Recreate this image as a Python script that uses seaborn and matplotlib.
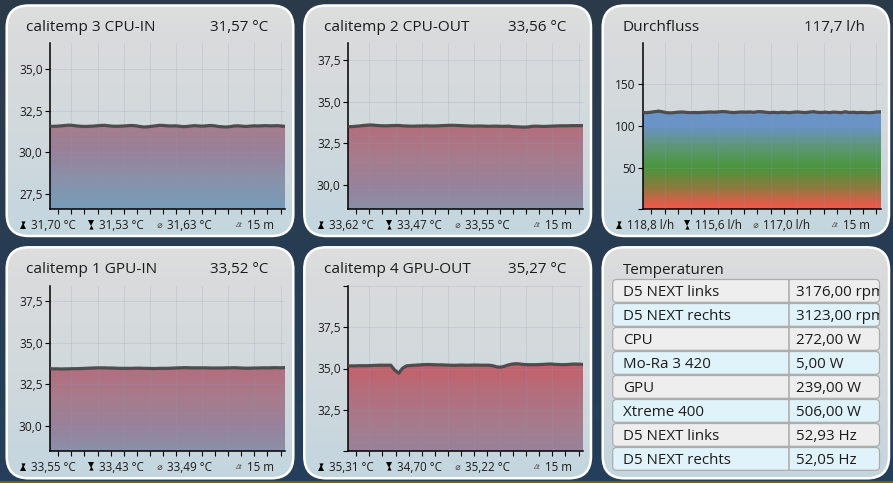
import numpy as np
import matplotlib
matplotlib.use("Agg")
import matplotlib.pyplot as plt
import seaborn as sns
import pandas as pd
from matplotlib.colors import LinearSegmentedColormap
from matplotlib.patches import FancyBboxPatch, Rectangle
from matplotlib.ticker import MultipleLocator
from matplotlib.transforms import Bbox, TransformedBbox

# seconds on the 15 minute window
sample_s = [17, 32, 47, 62, 77, 92, 107, 122, 137, 152, 167, 182, 197, 212, 227, 242, 257, 272, 287, 302,
            317, 332, 347, 362, 377, 392, 407, 422, 437, 452, 467, 482, 497, 512, 527, 542, 557, 572, 587, 602,
            617, 632, 647, 662, 677, 692, 707, 722, 737, 752, 767, 782, 797, 812, 827, 842, 857, 872, 887, 902, 917]

cpu_in = [31.58, 31.57, 31.58, 31.60, 31.62, 31.64, 31.62, 31.59, 31.57, 31.56, 31.57, 31.58, 31.60, 31.62, 31.63, 31.60,
          31.58, 31.57, 31.58, 31.59, 31.61, 31.62, 31.60, 31.56, 31.53, 31.54, 31.57, 31.60, 31.63, 31.62, 31.60, 31.59,
          31.60, 31.58, 31.55, 31.56, 31.59, 31.61, 31.59, 31.58, 31.60, 31.62, 31.60, 31.56, 31.54, 31.53, 31.55, 31.59,
          31.60, 31.58, 31.56, 31.58, 31.60, 31.59, 31.60, 31.61, 31.60, 31.60, 31.61, 31.59, 31.57]
cpu_out = [33.50, 33.50, 33.52, 33.54, 33.57, 33.59, 33.60, 33.58, 33.56, 33.55, 33.55, 33.56, 33.57, 33.57, 33.55, 33.54,
           33.53, 33.53, 33.54, 33.54, 33.55, 33.54, 33.54, 33.55, 33.56, 33.57, 33.58, 33.58, 33.57, 33.56, 33.55, 33.54,
           33.53, 33.54, 33.54, 33.53, 33.52, 33.53, 33.53, 33.52, 33.52, 33.53, 33.50, 33.49, 33.48, 33.47, 33.48, 33.52,
           33.53, 33.52, 33.51, 33.52, 33.53, 33.54, 33.55, 33.55, 33.55, 33.56, 33.56, 33.56, 33.56]
flow = [116.2, 116.0, 116.5, 117.2, 117.8, 117.0, 116.0, 115.7, 116.1, 116.6, 116.8, 116.3, 116.0, 116.2, 116.0, 116.3,
        116.5, 116.8, 116.6, 116.9, 117.3, 117.1, 116.4, 116.1, 116.5, 116.8, 116.6, 116.9, 116.4, 117.2, 117.1, 116.5,
        116.0, 116.4, 115.9, 116.5, 116.3, 116.0, 116.6, 116.9, 116.4, 116.1, 116.7, 117.2, 116.4, 116.2, 116.6, 116.0,
        116.7, 116.4, 116.0, 117.1, 116.2, 116.5, 116.0, 116.3, 116.1, 115.9, 116.2, 116.9, 117.0]
gpu_in = [33.45, 33.44, 33.44, 33.43, 33.44, 33.44, 33.45, 33.45, 33.46, 33.47, 33.48, 33.49, 33.50, 33.50, 33.50, 33.49,
          33.49, 33.48, 33.47, 33.47, 33.47, 33.47, 33.48, 33.48, 33.47, 33.47, 33.46, 33.46, 33.47, 33.47, 33.47, 33.48,
          33.49, 33.50, 33.51, 33.51, 33.50, 33.50, 33.50, 33.50, 33.50, 33.49, 33.49, 33.49, 33.49, 33.50, 33.50, 33.51,
          33.50, 33.49, 33.48, 33.48, 33.49, 33.49, 33.50, 33.50, 33.50, 33.51, 33.51, 33.50, 33.52]
gpu_out = [35.15, 35.16, 35.16, 35.17, 35.17, 35.17, 35.18, 35.19, 35.20, 35.20, 35.20, 35.20, 34.90, 34.72, 35.02, 35.16,
           35.18, 35.20, 35.21, 35.23, 35.24, 35.24, 35.23, 35.22, 35.22, 35.21, 35.20, 35.19, 35.20, 35.21, 35.20, 35.20,
           35.21, 35.21, 35.20, 35.20, 35.20, 35.17, 35.10, 35.08, 35.14, 35.22, 35.27, 35.29, 35.27, 35.24, 35.23, 35.23,
           35.23, 35.24, 35.25, 35.27, 35.27, 35.25, 35.24, 35.23, 35.24, 35.26, 35.27, 35.26, 35.25]

titles = ["calitemp 3 CPU-IN", "calitemp 2 CPU-OUT", "Durchfluss", "calitemp 1 GPU-IN", "calitemp 4 GPU-OUT"]
current = ["31,57 °C", "33,56 °C", "117,7 l/h", "33,52 °C", "35,27 °C"]
maxima = ["31,70 °C", "33,62 °C", "118,8 l/h", "33,55 °C", "35,31 °C"]
minima = ["31,53 °C", "33,47 °C", "115,6 l/h", "33,43 °C", "34,70 °C"]
means = ["31,63 °C", "33,55 °C", "117,0 l/h", "33,49 °C", "35,22 °C"]
series = [cpu_in, cpu_out, flow, gpu_in, gpu_out]
y_ticks = [[27.5, 30, 32.5, 35], [30, 32.5, 35, 37.5], [0, 50, 100, 150], [30, 32.5, 35, 37.5], [30, 32.5, 35, 37.5, 40]]
y_labels = [["27,5", "30,0", "32,5", "35,0"], ["30,0", "32,5", "35,0", "37,5"], ["", "50", "100", "150"],
            ["30,0", "32,5", "35,0", "37,5"], ["", "32,5", "35,0", "37,5", ""]]
y_limits = [(26.58, 36.56), (28.54, 38.5), (0, 199.2), (28.48, 38.44), (30, 40)]

table_names = ["D5 NEXT links", "D5 NEXT rechts", "CPU", "Mo-Ra 3 420", "GPU", "Xtreme 400", "D5 NEXT links", "D5 NEXT rechts"]
table_values = ["3176,00 rpm", "3123,00 rpm", "272,00 W", "5,00 W", "239,00 W", "506,00 W", "52,93 Hz", "52,05 Hz"]

sns.set_theme(style="white")
plt.rcParams["font.family"] = ["Open Sans", "DejaVu Sans"]

W, H = 893, 483
TXT = "#1c1c1c"
fig = plt.figure(figsize=(W / 100, H / 100), dpi=100)

bg = fig.add_axes([0, 0, 1, 1])
bg.set_xlim(0, W)
bg.set_ylim(H, 0)
bg.axis("off")
ramp = np.linspace(0, 1, 256)[:, None]
page_cmap = LinearSegmentedColormap.from_list("page", ["#2c3a49", "#243f5c"])
bg.imshow(ramp, cmap=page_cmap, extent=(0, W, H, 0), aspect="auto", zorder=0)
bg.add_patch(Rectangle((0, 481), W, 2, color="#7d5e10", lw=0, zorder=1))

card_cmap = LinearSegmentedColormap.from_list("card", [(0, "#dedede"), (0.12, "#dadbdc"), (0.55, "#d1d9dc"), (1, "#c3d6df")])
temp_cmap = LinearSegmentedColormap.from_list("temp", [(0, "#779db9"), (0.22, "#8b90a8"), (0.38, "#97829b"),
                                                        (0.55, "#a57d8e"), (0.78, "#b26f7e"), (1, "#c65f68")])
flow_cmap = LinearSegmentedColormap.from_list("flow", [(0, "#f0594a"), (8 / 120, "#d8604a"), (25 / 120, "#8d7a3e"),
                                                        (50 / 120, "#4a963c"), (75 / 120, "#5f9677"),
                                                        (100 / 120, "#6a93c8"), (1, "#6b93c8")])

cards_x = [(6.7, 293.3), (304.3, 591), (602.7, 889), (6.7, 293.3), (304.3, 591), (602.7, 889)]
cards_y = [(5.5, 236), (5.5, 236), (5.5, 236), (247.3, 478.3), (247.3, 478.3), (247.3, 478.3)]
plots_x = [(49.7, 285), (347.7, 583), (642.7, 881), (49.7, 285), (347.7, 583)]
plots_y = [(43.3, 209.3), (43.3, 209.3), (43.3, 209.3), (285.7, 451.3), (285.7, 451.3)]

for (x0, x1), (y0, y1) in zip(cards_x, cards_y):
    box = FancyBboxPatch((x0, y0), x1 - x0, y1 - y0, boxstyle="round,pad=0,rounding_size=22",
                         fc="none", ec="white", lw=1.8, zorder=3)
    bg.add_patch(box)
    im = bg.imshow(ramp, cmap=card_cmap, extent=(x0, x1, y1, y0), aspect="auto", zorder=2)
    im.set_clip_path(box)
bg.set_xlim(0, W)
bg.set_ylim(H, 0)

for i in range(5):
    px0, px1 = plots_x[i]
    py0, py1 = plots_y[i]
    ax = fig.add_axes([px0 / W, 1 - py1 / H, (px1 - px0) / W, (py1 - py0) / H], facecolor="none")
    df = pd.DataFrame({"t": sample_s, "v": series[i]})
    lo, hi = y_limits[i]

    # gradient below the curve, colour depends on the value only
    poly = ax.fill_between(df["t"], lo, df["v"], color="none", lw=0)
    grad = np.linspace(hi, lo, 256)[:, None]
    if i == 2:
        grad_im = ax.imshow(grad, cmap=flow_cmap, vmin=0, vmax=120, extent=(17, 917, lo, hi), aspect="auto", zorder=1)
    else:
        grad_im = ax.imshow(grad, cmap=temp_cmap, vmin=26.6, vmax=35.3, extent=(17, 917, lo, hi), aspect="auto", zorder=1)
    grad_im.set_clip_path(poly.get_paths()[0], ax.transData)

    sns.lineplot(data=df, x="t", y="v", ax=ax, color="#484848", linewidth=2.3, alpha=0.95, zorder=4)

    ax.set_xlim(17, 917)
    ax.set_ylim(lo, hi)
    ax.set_xlabel("")
    ax.set_ylabel("")
    ax.xaxis.set_major_locator(MultipleLocator(100))
    ax.xaxis.set_minor_locator(MultipleLocator(50))
    ax.set_yticks(y_ticks[i])
    ax.set_yticklabels(y_labels[i])
    ax.tick_params(axis="x", which="both", bottom=True, length=3.6, width=0.8, color="black", labelbottom=False)
    ax.tick_params(axis="y", left=True, length=3.6, width=0.8, color="black", labelsize=8.6, labelcolor=TXT, pad=1.5)
    ax.grid(True, which="major", color="#8f96bc", alpha=0.2, lw=0.7, zorder=3)
    ax.set_axisbelow(False)
    for side in ["top", "right"]:
        ax.spines[side].set_visible(False)
    for side in ["left", "bottom"]:
        ax.spines[side].set_color("black")
        ax.spines[side].set_linewidth(1.1)

    cx = cards_x[i][0]
    cy = cards_y[i][0]
    bg.text(cx + 19.6, cy + 22.4, titles[i], fontsize=11.1, color=TXT, va="center", zorder=5)
    bg.text(cx + 261.7, cy + 22.4, current[i], fontsize=10.9, color=TXT, va="center", ha="right", zorder=5)

    fy = cy + 220.3
    for off, val in zip([24.5, 92.5, 160.5], [maxima[i], minima[i], means[i]]):
        bg.text(cx + off, fy, val, fontsize=8.4, color=TXT, va="center", zorder=5)
    bg.text(cx + 240.5, fy, "15 m", fontsize=8.4, color=TXT, va="center", zorder=5)
    # hourglass icons
    bg.plot([cx + 16.5], [fy - 2.6], marker="v", ms=3.0, color="black", mew=0, zorder=5)
    bg.plot([cx + 16.5], [fy + 0.4], marker="^", ms=4.2, color="black", mew=0, zorder=5)
    bg.plot([cx + 84.5], [fy - 2.4], marker="v", ms=4.2, color="black", mew=0, zorder=5)
    bg.plot([cx + 84.5], [fy + 0.7], marker="^", ms=3.0, color="black", mew=0, zorder=5)
    bg.text(cx + 152.5, fy - 0.5, "⌀", fontsize=6.5, color="#444444", va="center", ha="center", style="italic", zorder=5)
    bg.text(cx + 232, fy - 0.5, "Δt", fontsize=5.5, color="#555555", va="center", ha="center", style="italic", zorder=5)

bg.text(622.7, 270, "Temperaturen", fontsize=10.9, color=TXT, va="center", zorder=5)
for r, (name, val) in enumerate(zip(table_names, table_values)):
    top = 279.5 + r * 24
    row = FancyBboxPatch((612.7, top), 266.8, 22.8, boxstyle="round,pad=0,rounding_size=4",
                         fc="#eeeeee" if r % 2 == 0 else "#e0f2fa", ec="#adadad", lw=0.9, zorder=4)
    bg.add_patch(row)
    bg.plot([789.3, 789.3], [top, top + 22.8], color="#a8a8a8", lw=1.1, zorder=5)
    bg.text(622.7, top + 13.4, name, fontsize=10.9, color=TXT, va="center", zorder=6)
    t = bg.text(796, top + 13.4, val, fontsize=10.9, color=TXT, va="center", zorder=6)
    # long values are cut at the cell edge
    t.set_clip_box(TransformedBbox(Bbox([[612.7, top], [879, top + 22.8]]), bg.transData))
    t.set_clip_on(True)

fig.savefig("out.png", dpi=100)
